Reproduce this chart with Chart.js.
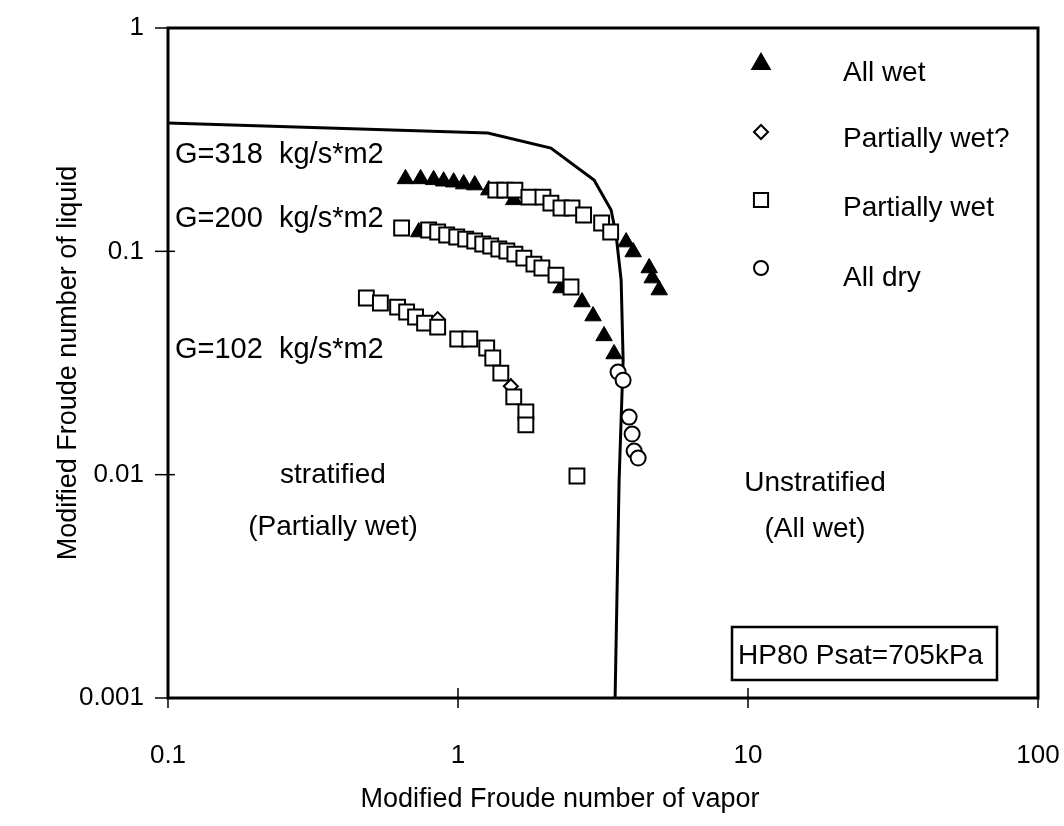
<!DOCTYPE html>
<html><head><meta charset="utf-8">
<script src="https://cdn.jsdelivr.net/npm/chart.js@4.4.1/dist/chart.umd.min.js"></script>
<style>html,body{margin:0;padding:0;background:#fff;} #wrap{width:1064px;height:826px;position:relative;}</style>
</head><body><div id="wrap"><canvas id="c" width="1064" height="826"></canvas></div>
<script>
// ---- axis ticks ----
const xTickValues = [0.1, 1, 10, 100];
const xTickLabels = ['0.1', '1', '10', '100'];
const yTickValues = [0.001, 0.01, 0.1, 1];
const yTickLabels = ['0.001', '0.01', '0.1', '1'];

// ---- All wet (filled triangles) ----
const allWet318X = [0.659, 0.743, 0.824, 0.892, 0.966, 1.046, 1.142, 1.277, 1.405, 1.557, 3.800, 4.018, 4.563, 4.674, 4.941];
const allWet318Y = [0.211, 0.211, 0.209, 0.206, 0.204, 0.200, 0.198, 0.188, 0.184, 0.170, 0.110, 0.0993, 0.0842, 0.0759, 0.0671];
const allWet200X = [0.732, 2.265, 2.677, 2.922, 3.189, 3.452];
const allWet200Y = [0.122, 0.0685, 0.0593, 0.0513, 0.0418, 0.0347];

// ---- Partially wet? (diamonds) ----
const partWetQX = [0.851, 1.521];
const partWetQY = [0.0497, 0.0249];

// ---- Partially wet (squares) ----
const partWet318X = [1.350, 1.450, 1.571, 1.756, 1.963, 2.091, 2.265, 2.472, 2.711, 3.128, 3.361];
const partWet318Y = [0.188, 0.188, 0.188, 0.175, 0.175, 0.1645, 0.1563, 0.1563, 0.1454, 0.1339, 0.122];
const partWet200X = [0.639, 0.792, 0.851, 0.914, 0.990, 1.063, 1.142, 1.217, 1.297, 1.383, 1.474, 1.571, 1.687, 1.827, 1.947, 2.177, 2.453];
const partWet200Y = [0.1272, 0.1246, 0.122, 0.1183, 0.1159, 0.1135, 0.1112, 0.1078, 0.1056, 0.1024, 0.1003, 0.0972, 0.0933, 0.0877, 0.0842, 0.0783, 0.0692];
const partWet102X = [0.483, 0.540, 0.619, 0.665, 0.714, 0.767, 0.851, 0.998, 1.098, 1.256, 1.318, 1.405, 1.557, 1.714, 1.714, 2.571];
const partWet102Y = [0.0618, 0.0587, 0.0563, 0.0535, 0.0508, 0.0477, 0.0458, 0.0405, 0.0405, 0.0369, 0.0333, 0.0285, 0.0223, 0.0191, 0.0167, 0.00986];

// ---- All dry (circles) ----
const allDryX = [3.564, 3.710, 3.891, 3.985, 4.049, 4.180];
const allDryY = [0.0288, 0.0265, 0.0181, 0.0152, 0.01276, 0.01187];

// ---- stratified / unstratified boundary ----
const boundaryX = [0.1, 1.267, 2.091, 2.945, 3.372, 3.509, 3.652, 3.710, 3.594, 3.481];
const boundaryY = [0.3755, 0.3387, 0.290, 0.2086, 0.1531, 0.1183, 0.0744, 0.0326, 0.00946, 0.001];

// ---- texts ----
const legendLabels = ['All wet', 'Partially wet?', 'Partially wet', 'All dry'];
const seriesLabels = ['G=318  kg/s*m2', 'G=200  kg/s*m2', 'G=102  kg/s*m2'];
const regionLabels = ['stratified', '(Partially wet)', 'Unstratified', '(All wet)'];
const boxLabel = 'HP80 Psat=705kPa';
const xTitle = 'Modified Froude number of vapor';
const yTitle = 'Modified Froude number of liquid';

const pts = (xs, ys) => xs.map((x, i) => ({x: x, y: ys[i]}));
const FONT = '"Liberation Sans", Arial, Helvetica, sans-serif';

const decorPlugin = {
  id: 'decor',
  afterDatasetsDraw(chart) {
    const ctx = chart.ctx, a = chart.chartArea;
    const xs = chart.scales.x, ys = chart.scales.y;
    ctx.save();
    ctx.strokeStyle = '#000';
    ctx.lineWidth = 3;
    ctx.strokeRect(a.left, a.top, a.right - a.left, a.bottom - a.top);
    ctx.lineWidth = 1.5;
    xTickValues.forEach(v => {
      const p = xs.getPixelForValue(v);
      ctx.beginPath(); ctx.moveTo(p, a.bottom - 10); ctx.lineTo(p, a.bottom + 10); ctx.stroke();
    });
    yTickValues.forEach(v => {
      const p = ys.getPixelForValue(v);
      ctx.beginPath(); ctx.moveTo(a.left - 13, p); ctx.lineTo(a.left + 7, p); ctx.stroke();
    });
    ctx.fillStyle = '#000';
    ctx.textBaseline = 'alphabetic';
    // series annotations
    ctx.font = '29px ' + FONT;
    ctx.textAlign = 'left';
    ctx.fillText(seriesLabels[0], a.left + 7, 163);
    ctx.fillText(seriesLabels[1], a.left + 7, 227);
    ctx.fillText(seriesLabels[2], a.left + 7, 358);
    // region annotations
    ctx.font = '28px ' + FONT;
    ctx.textAlign = 'center';
    ctx.fillText(regionLabels[0], 333, 483);
    ctx.fillText(regionLabels[1], 333, 535);
    ctx.fillText(regionLabels[2], 815, 491);
    ctx.fillText(regionLabels[3], 815, 537);
    // info box
    ctx.lineWidth = 2.5;
    ctx.strokeRect(732, 627, 265, 53);
    ctx.textAlign = 'left';
    ctx.fillText(boxLabel, 738, 664);
    // x-axis title
    ctx.font = '27px ' + FONT;
    ctx.textAlign = 'center';
    ctx.textBaseline = 'middle';
    ctx.fillText(xTitle, 560, 800);
    ctx.textBaseline = 'alphabetic';
    // legend
    ctx.font = '28px ' + FONT;
    ctx.textAlign = 'left';
    const styles = [
      {pointStyle: 'triangle', radius: 10, fill: '#000'},
      {pointStyle: 'rectRot', radius: 7, fill: '#fff'},
      {pointStyle: 'rect', radius: 10, fill: '#fff'},
      {pointStyle: 'circle', radius: 7, fill: '#fff'}
    ];
    const markY = [64, 132, 200, 268];
    const textY = [81, 147, 216, 286];
    legendLabels.forEach((lab, i) => {
      const s = styles[i];
      ctx.fillStyle = s.fill; ctx.strokeStyle = '#000'; ctx.lineWidth = 2;
      Chart.helpers.drawPoint(ctx, {pointStyle: s.pointStyle, radius: s.radius, rotation: 0, borderWidth: 2}, 761, markY[i]);
      ctx.fillStyle = '#000';
      ctx.fillText(lab, 843, textY[i]);
    });
    ctx.restore();
  }
};

const zeroPad = s => { s.paddingLeft = 0; s.paddingRight = 0; s.paddingTop = 0; s.paddingBottom = 0; };

new Chart(document.getElementById('c'), {
  type: 'scatter',
  data: {
    datasets: [
      {label: 'boundary', type: 'line', data: pts(boundaryX, boundaryY), borderColor: '#000', borderWidth: 3,
       pointRadius: 0, fill: false, tension: 0, order: 5},
      {label: legendLabels[0], data: pts(allWet318X, allWet318Y).concat(pts(allWet200X, allWet200Y)),
       pointStyle: 'triangle', pointRadius: 9.5, backgroundColor: '#000', borderColor: '#000', borderWidth: 1, order: 3},
      {label: legendLabels[1], data: pts(partWetQX, partWetQY),
       pointStyle: 'rectRot', pointRadius: 7, backgroundColor: '#fff', borderColor: '#000', borderWidth: 2, order: 2},
      {label: legendLabels[2], data: pts(partWet318X, partWet318Y).concat(pts(partWet200X, partWet200Y), pts(partWet102X, partWet102Y)),
       pointStyle: 'rect', pointRadius: 10.5, backgroundColor: '#fff', borderColor: '#000', borderWidth: 2, order: 1},
      {label: legendLabels[3], data: pts(allDryX, allDryY),
       pointStyle: 'circle', pointRadius: 7.5, backgroundColor: '#fff', borderColor: '#000', borderWidth: 2, order: 0}
    ]
  },
  options: {
    responsive: false,
    animation: false,
    devicePixelRatio: 1,
    layout: {padding: {top: 28, right: 26, left: 0, bottom: 0}},
    plugins: {legend: {display: false}, tooltip: {enabled: false}},
    scales: {
      x: {
        type: 'logarithmic', min: 0.1, max: 100,
        afterBuildTicks: s => { s.ticks = xTickValues.map(v => ({value: v})); },
        afterFit: s => { s.height = 128; zeroPad(s); },
        ticks: {
          autoSkip: false, maxRotation: 0, padding: 42, color: '#000',
          font: {family: FONT, size: 26},
          callback: v => { const i = xTickValues.indexOf(v); return i >= 0 ? xTickLabels[i] : ''; }
        },
        grid: {display: false, drawTicks: false},
        border: {display: false},
        title: {display: false}
      },
      y: {
        type: 'logarithmic', min: 0.001, max: 1,
        afterBuildTicks: s => { s.ticks = yTickValues.map(v => ({value: v})); },
        afterFit: s => { s.width = 168; zeroPad(s); },
        ticks: {
          autoSkip: false, padding: 24, color: '#000',
          font: {family: FONT, size: 26},
          callback: v => { const i = yTickValues.indexOf(v); return i >= 0 ? yTickLabels[i] : ''; }
        },
        grid: {display: false, drawTicks: false},
        border: {display: false},
        title: {display: true, text: yTitle, color: '#000', font: {family: FONT, size: 27}, padding: {top: 52, bottom: 0}}
      }
    }
  },
  plugins: [decorPlugin]
});
</script>
</body></html>
